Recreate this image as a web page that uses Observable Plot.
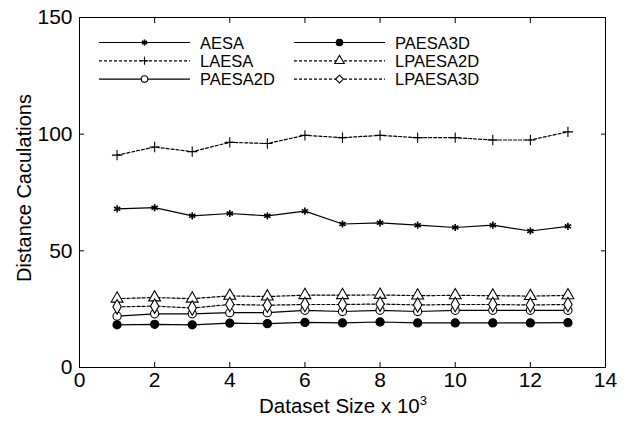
<!DOCTYPE html>
<html><head><meta charset="utf-8">
<script src="https://cdn.jsdelivr.net/npm/d3@7"></script>
<script src="https://cdn.jsdelivr.net/npm/@observablehq/plot@0.6"></script>
<style>
body{margin:0;background:#fff;}
#wrap{position:relative;width:629px;height:423px;font-family:"Liberation Sans",Arial,sans-serif;}
#legend{position:absolute;left:0;top:0;width:629px;height:423px;pointer-events:none;}
</style></head>
<body><div id="wrap"></div>
<script>
const sizes = [1,2,3,4,5,6,7,8,9,10,11,12,13];
const AESA     = [68, 68.5, 65, 66, 65, 67, 61.5, 62, 61, 60, 61, 58.5, 60.5];
const LAESA    = [91, 94.5, 92.5, 96.5, 96, 99.5, 98.5, 99.5, 98.5, 98.5, 97.5, 97.5, 101];
const PAESA2D  = [22, 23, 23, 23.5, 23.5, 24.5, 24, 24.5, 24, 24.5, 24.5, 24.5, 24.5];
const PAESA3D  = [18.3, 18.5, 18.3, 19, 18.8, 19.3, 19.1, 19.5, 19.1, 19.1, 19.1, 19.1, 19.2];
const LPAESA2D = [29.5, 30, 29.5, 30.7, 30.4, 31, 31, 31.1, 30.8, 30.9, 30.8, 30.6, 30.9];
const LPAESA3D = [26, 26.3, 25.5, 27, 26.7, 27, 27, 27.2, 26.8, 27, 27, 26.8, 27];
const xTicks = [0,2,4,6,8,10,12,14];
const yTicks = [0,50,100,150];

const series = [
  {name:"AESA", values:AESA, symbol:"asterisk", dash:null, fill:"none"},
  {name:"LAESA", values:LAESA, symbol:"plus", dash:"3,2", fill:"none"},
  {name:"PAESA2D", values:PAESA2D, symbol:"circle", dash:null, fill:"white"},
  {name:"PAESA3D", values:PAESA3D, symbol:"circle", dash:null, fill:"black"},
  {name:"LPAESA2D", values:LPAESA2D, symbol:"triangle", dash:"3,2", fill:"white"},
  {name:"LPAESA3D", values:LPAESA3D, symbol:"diamond", dash:"3,2", fill:"white"}
];
const legendOrder = ["AESA","LAESA","PAESA2D","PAESA3D","LPAESA2D","LPAESA3D"];
const symR = s => s==="asterisk"||s==="plus" ? 3.4 : (s==="circle" ? 4.1 : 4.4);

const marks = [];
for (const s of series) {
  const data = sizes.map((x,i)=>({x, y:s.values[i]}));
  marks.push(Plot.line(data,{x:"x",y:"y",stroke:"black",strokeWidth:1.2,strokeDasharray:s.dash}));
}
for (const s of series) {
  const data = sizes.map((x,i)=>({x, y:s.values[i]}));
  marks.push(Plot.dot(data,{x:"x",y:"y",symbol:()=>s.symbol,r:symR(s.symbol),
    stroke:"black",strokeWidth:s.symbol==="asterisk"?1.6:1.1,fill:s.fill}));
}
const empty = ()=>"";
const chart = Plot.plot({
  width:629, height:423,
  marginLeft:79, marginRight:24, marginTop:17, marginBottom:56,
  style:{fontFamily:"Liberation Sans, Arial, sans-serif", background:"white", color:"black"},
  x:{domain:[0,14]},
  y:{domain:[0,150]},
  symbol:{type:"identity"},
  marks:[
    Plot.frame({stroke:"black",strokeWidth:1}),
    Plot.axisX({ticks:xTicks,tickSize:0,tickPadding:5,fontSize:21,label:null}),
    Plot.axisX({ticks:xTicks,tickSize:-5,tickFormat:empty,label:null}),
    Plot.axisX({anchor:"top",ticks:xTicks,tickSize:-5,tickFormat:empty,label:null}),
    Plot.axisY({ticks:yTicks,tickSize:0,tickPadding:7,fontSize:21,label:null}),
    Plot.axisY({ticks:yTicks,tickSize:-5,tickFormat:empty,label:null}),
    Plot.axisY({anchor:"right",ticks:yTicks,tickSize:-5,tickFormat:empty,label:null}),
    ...marks
  ]
});
const wrap = document.getElementById("wrap");
wrap.appendChild(chart);

// axis titles and legend overlay
const ov = d3.select(wrap).append("svg").attr("id","legend").attr("width",629).attr("height",423);
ov.append("text").attr("x",343).attr("y",413).attr("text-anchor","middle")
  .attr("font-size",20.5).attr("font-family","Liberation Sans, Arial, sans-serif")
  .html('Dataset Size x 10<tspan dy="-8" font-size="13">3</tspan>');
ov.append("text").attr("transform","translate(31,188) rotate(-90)")
  .attr("text-anchor","middle").attr("font-size",20).attr("font-family","Liberation Sans, Arial, sans-serif")
  .text("Distance Caculations");

const symMap = {asterisk:d3.symbolAsterisk, plus:d3.symbolPlus, circle:d3.symbolCircle, triangle:d3.symbolTriangle, diamond:d3.symbolDiamond2};
legendOrder.forEach((name,i)=>{
  const s = series.find(d=>d.name===name);
  const col = Math.floor(i/3), row = i%3;
  const x0 = 99 + col*195, y0 = 42.5 + row*18.3;
  const g = ov.append("g").attr("transform",`translate(${x0},${y0})`);
  g.append("line").attr("x1",0).attr("x2",91).attr("stroke","black").attr("stroke-width",1.2)
    .attr("stroke-dasharray",s.dash);
  const r = symR(s.symbol) * 0.8;
  g.append("path").attr("transform","translate(45.5,0)")
    .attr("d",d3.symbol(symMap[s.symbol], Math.PI*r*r)())
    .attr("stroke","black").attr("stroke-width",s.symbol==="asterisk"?1.6:1.1).attr("fill",s.fill);
  g.append("text").attr("x",101).attr("y",6).attr("font-size",16.5)
    .attr("font-family","Liberation Sans, Arial, sans-serif").text(name);
});
</script></body></html>
